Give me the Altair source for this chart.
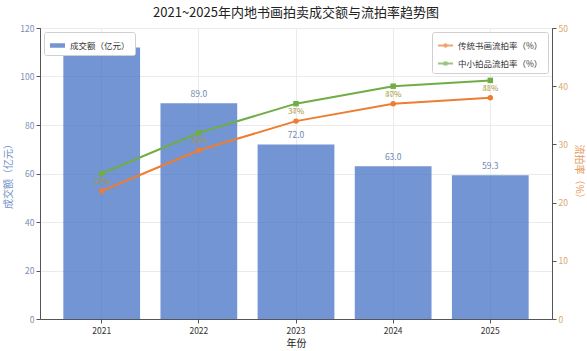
import altair as alt
import pandas as pd

years = ["2021", "2022", "2023", "2024", "2025"]
amount = [112.0, 89.0, 72.0, 63.0, 59.3]
bar_labels = ["", "89.0", "72.0", "63.0", "59.3"]  # 2021 label hidden behind the legend in the reference
trad_rate = [22, 29, 34, 37, 38]
small_rate = [25, 32, 37, 40, 41]
bar_name = "成交额（亿元）"
series_names = ["传统书画流拍率（%）", "中小拍品流拍率（%）"]
left_ticks = [0, 20, 40, 60, 80, 100, 120]
right_ticks = [0, 10, 20, 30, 40, 50]

FONT = "Noto Sans CJK SC"
BLUE = "#4472C4"
ORANGE = "#ED7D31"
GREEN = "#70AD47"

bar_df = pd.DataFrame({"year": years, "amount": amount, "name": bar_name, "label": bar_labels})
rate_df = pd.DataFrame({"year": years, "trad": trad_rate, "small": small_rate})
legend_df = pd.DataFrame({"series": series_names})

x_enc = alt.X(
    "year:O",
    scale=alt.Scale(paddingInner=0.21, paddingOuter=0.24),
    axis=alt.Axis(
        title="年份", labelAngle=0, bandPosition=0.5, grid=True,
        gridColor="#ebebeb", labelFontSize=8.5, labelColor="#333",
        titleFontSize=10, titleFontWeight="normal", titleColor="#222",
        domainColor="#555", tickColor="#555", tickSize=4, titlePadding=4,
        labelPadding=3,
    ),
)

left_axis = alt.Axis(
    title=bar_name, values=left_ticks, orient="left", grid=True,
    gridColor="#ebebeb", labelFontSize=8.5, labelColor="#7b8db5",
    titleColor="#6f8fc8", titleFontSize=10, titleFontWeight="normal",
    domainColor="#555", tickColor="#555", tickSize=4, titlePadding=6,
)
right_axis = alt.Axis(
    title="流拍率（%）", values=right_ticks, orient="right", grid=False,
    labelFontSize=8.5, labelColor="#dba86e", titleColor="#e59a5c",
    titleFontSize=10, titleFontWeight="normal",
    domainColor="#555", tickColor="#555", tickSize=4, titlePadding=6,
)

y_left = alt.Y("amount:Q", scale=alt.Scale(domain=[0, 120]), axis=left_axis)

bars = alt.Chart(bar_df).mark_bar(opacity=0.75).encode(
    x=x_enc,
    y=y_left,
    color=alt.Color(
        "name:N",
        scale=alt.Scale(domain=[bar_name], range=[BLUE]),
        legend=alt.Legend(
            title=None, orient="top-left", offset=4,
            symbolType="M-1,-0.3H1V0.3H-1Z", symbolSize=225,
        ),
    ),
)
bar_text = alt.Chart(bar_df).mark_text(
    dy=-9, fontSize=8.5, color="#6f86b5", font=FONT
).encode(x=x_enc, y=y_left, text="label:N")

bar_group = alt.layer(bars, bar_text)

def yr(field):
    return alt.Y(field, scale=alt.Scale(domain=[0, 50]), axis=right_axis)

base = alt.Chart(rate_df).encode(x=x_enc)
trad_line = base.mark_line(color=ORANGE, strokeWidth=2).encode(y=yr("trad:Q"))
trad_pts = base.mark_point(color=ORANGE, filled=True, shape="circle", size=30, opacity=1).encode(y=yr("trad:Q"))
small_line = base.mark_line(color=GREEN, strokeWidth=2).encode(y=yr("small:Q"))
small_pts = base.mark_point(color=GREEN, filled=True, shape="square", size=30, opacity=1).encode(y=yr("small:Q"))

lab_base = base.transform_calculate(
    mid="(datum.trad + datum.small) / 2",
    tlab="datum.trad + '%'",
    slab="datum.small + '%'",
)
trad_lab = lab_base.mark_text(color=ORANGE, fontSize=8, opacity=0.6, font=FONT).encode(
    y=yr("mid:Q"), text="tlab:N")
small_lab = lab_base.mark_text(color=GREEN, fontSize=8, opacity=0.6, font=FONT).encode(
    y=yr("mid:Q"), text="slab:N")

circle_path = "M-1,-0.13H1V0.13H-1Z M0.3,0A0.3,0.3 0 1,1 -0.3,0A0.3,0.3 0 1,1 0.3,0Z"
square_path = "M-1,-0.13H1V0.13H-1Z M-0.28,-0.28H0.28V0.28H-0.28Z"

legend_layer = alt.Chart(legend_df).transform_filter("false").mark_point(filled=True).encode(
    color=alt.Color(
        "series:N",
        scale=alt.Scale(domain=series_names, range=[ORANGE, GREEN]),
        legend=alt.Legend(title=None, orient="top-right", offset=4, symbolSize=225),
    ),
    shape=alt.Shape(
        "series:N",
        scale=alt.Scale(domain=series_names, range=[circle_path, square_path]),
        legend=alt.Legend(title=None, orient="top-right", offset=4, symbolSize=225),
    ),
)

line_group = alt.layer(trad_line, small_line, trad_pts, small_pts, trad_lab, small_lab, legend_layer)

chart = alt.layer(bar_group, line_group).resolve_scale(
    y="independent", color="independent", shape="independent"
).properties(
    width=512,
    height=291,
    padding={"left": 40, "top": 28, "right": 35, "bottom": 32},
    autosize=alt.AutoSizeParams(type="none"),
    title=alt.TitleParams(
        "2021~2025年内地书画拍卖成交额与流拍率趋势图",
        font=FONT, fontSize=13, fontWeight="normal", color="#222",
        offset=4, anchor="middle",
    ),
).configure(
    font=FONT,
    background="white",
).configure_view(
    stroke="#555", strokeWidth=1,
).configure_axis(
    labelFont=FONT, titleFont=FONT,
).configure_legend(
    labelFont=FONT, labelFontSize=8.5, labelColor="#333",
    strokeColor="#d0d0d0", fillColor="white", padding=5,
    cornerRadius=2, rowPadding=5, labelLimit=300,
)

chart.save("out.html", embed_options={"renderer": "svg", "actions": False})
